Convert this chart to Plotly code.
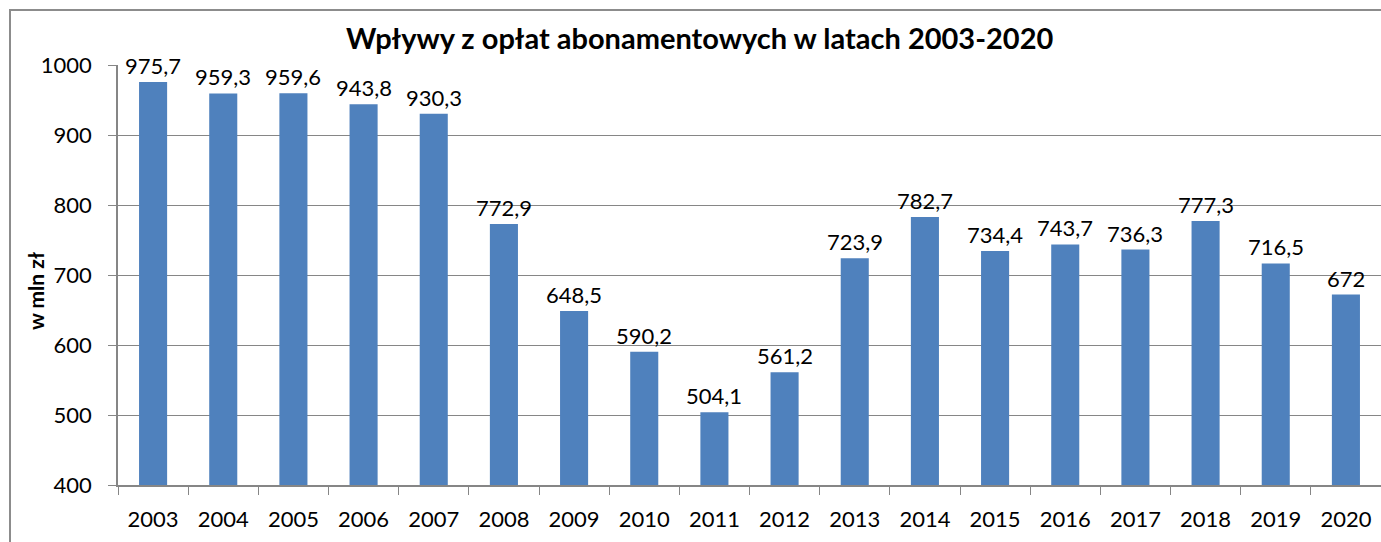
import plotly.graph_objects as go

years = [str(y) for y in range(2003, 2021)]
values = [975.7, 959.3, 959.6, 943.8, 930.3, 772.9, 648.5, 590.2, 504.1, 561.2,
          723.9, 782.7, 734.4, 743.7, 736.3, 777.3, 716.5, 672]
labels = [("%g" % v).replace(".", ",") for v in values]

title = "Wpływy z opłat abonamentowych w latach 2003-2020"
y_title = "w mln zł"

W, H = 1381, 542
ml, mr, mt, mb = 118, 0, 65, 57
pw, ph = W - ml - mr, H - mt - mb
FONT = "Lato, 'Open Sans', sans-serif"

fig = go.Figure(go.Bar(
    x=years, y=values,
    marker=dict(color="#4F81BD", line=dict(width=0)),
    cliponaxis=False, width=0.4, hoverinfo="x+y",
))

# category axis: annotation x given as category index
label_anns = [dict(x=i, y=v, text=t, xref="x", yref="y", showarrow=False,
                   yanchor="bottom", xanchor="center", yshift=1,
                   font=dict(size=22, color="black", family=FONT))
              for i, (v, t) in enumerate(zip(values, labels))]

fig.update_layout(
    width=W, height=H,
    margin=dict(l=ml, r=mr, t=mt, b=mb),
    paper_bgcolor="white", plot_bgcolor="white",
    showlegend=False,
    font=dict(family=FONT, size=22, color="black"),
    xaxis=dict(type="category", range=[-0.5, len(years) - 0.5], showgrid=False,
               showline=True, linecolor="#868686",
               linewidth=1.5, ticks="outside", tickson="boundaries", ticklen=8,
               tickcolor="#868686", tickfont=dict(size=22), ticklabelstandoff=14),
    yaxis=dict(range=[400, 1000], dtick=100, showgrid=True, gridcolor="#868686",
               gridwidth=1.2, showline=True, linecolor="#868686", linewidth=1.5,
               ticks="outside", ticklen=8, tickcolor="#868686",
               tickfont=dict(size=22), zeroline=False, ticklabelstandoff=12),
    annotations=label_anns + [
        dict(text="<b>" + title + "</b>", xref="paper", yref="paper",
             x=(699 - ml) / pw, y=(H - 37 - mb) / ph, xanchor="center",
             yanchor="middle", showarrow=False, font=dict(size=29)),
        dict(text="<b>" + y_title + "</b>", xref="paper", yref="paper",
             x=(35 - ml) / pw, y=(H - 291 - mb) / ph, xanchor="center",
             yanchor="middle", showarrow=False, textangle=-90, font=dict(size=21)),
    ],
    shapes=[dict(type="rect", xref="paper", yref="paper",
                 x0=(10 - ml) / pw, x1=1.05, y0=-0.3, y1=(H - 10 - mb) / ph,
                 line=dict(color="#8c8c8c", width=2), fillcolor="rgba(0,0,0,0)", layer="below")],
)

fig.write_html("out.html", config={"displayModeBar": False},
               post_script="document.body.style.margin='0';")
